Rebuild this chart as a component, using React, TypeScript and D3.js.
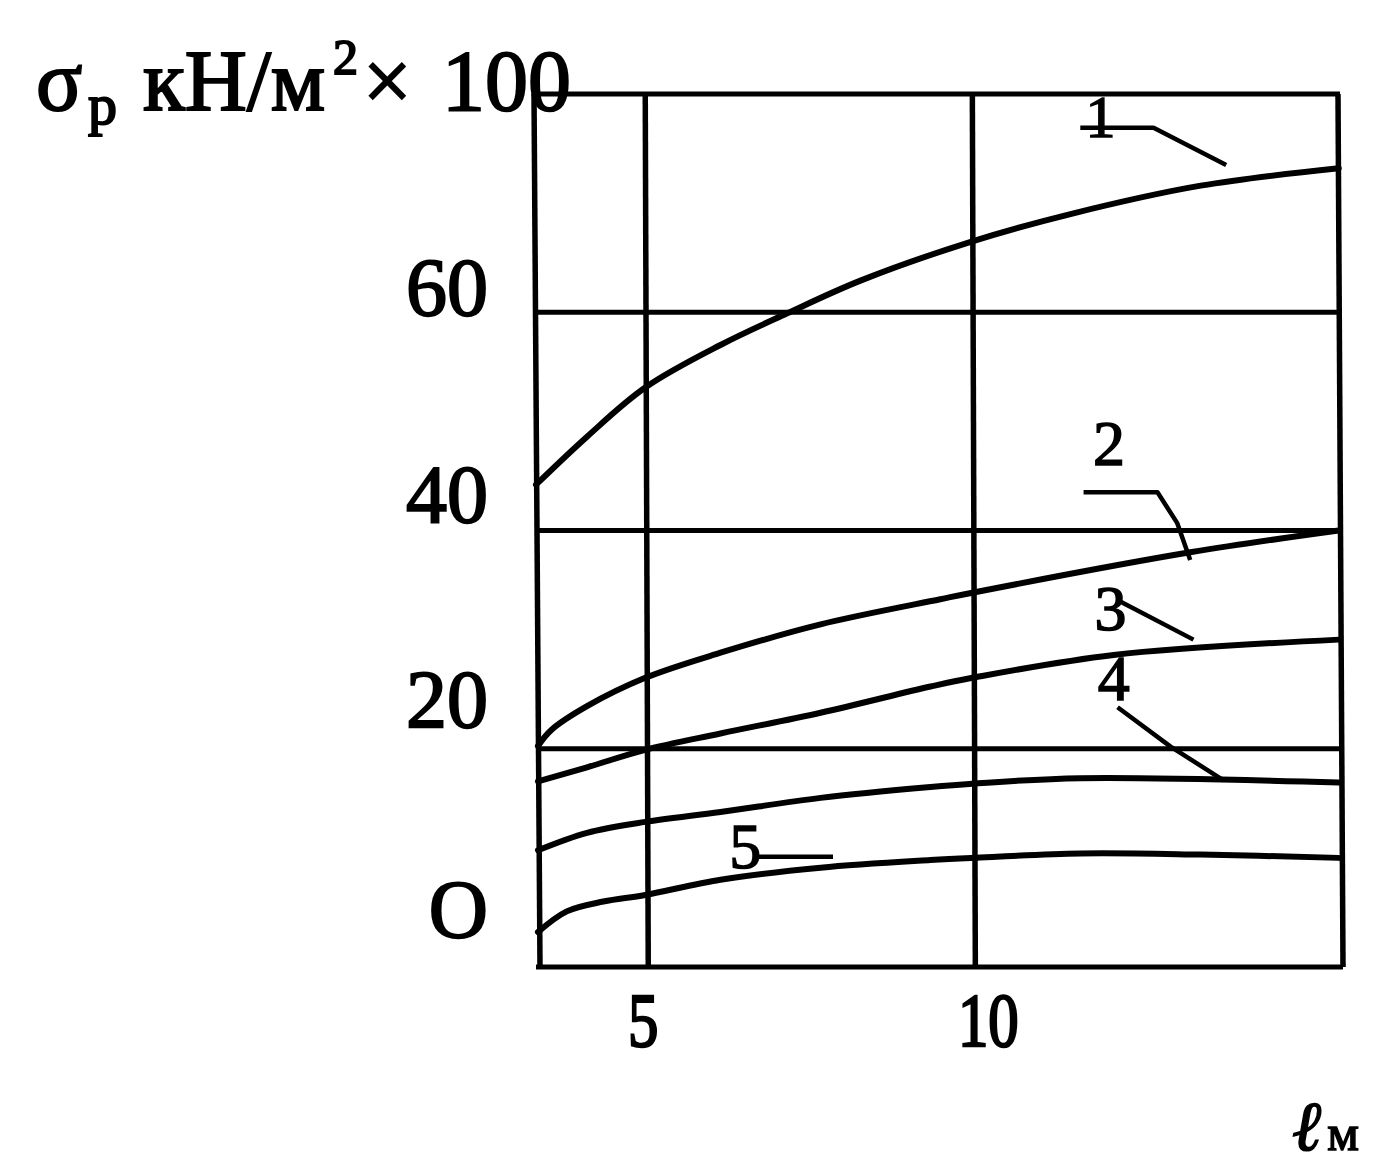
import React from 'react';
import * as d3 from 'd3';

// ---- data ----
const X_TICKS = [5, 10];
const X_TICK_LABELS = ['5', '10'];
const Y_TICKS = [0, 20, 40, 60];
const Y_TICK_LABELS = ['O', '20', '40', '60'];
const H_GRID = [20, 40, 60];
const V_GRID = [5, 10];

const C1_X = [3.33, 4.11, 5, 6.15, 7.17, 8.29, 10, 11.5, 13.49, 15.6];
const C1_Y = [44.2, 48.6, 53.1, 57.0, 59.9, 62.9, 66.5, 69.0, 71.6, 73.2];

const C2_X = [3.36, 3.56, 4.11, 5, 6.15, 7.68, 9.51, 10, 13.33, 15.6];
const C2_Y = [20.25, 21.7, 23.9, 26.5, 28.8, 31.4, 33.7, 34.3, 38.0, 40.0];

const C3_X = [3.36, 4.11, 5, 6.15, 7.68, 9.36, 10, 12.16, 15.6];
const C3_Y = [17.0, 18.3, 19.9, 21.4, 23.3, 25.7, 26.5, 28.6, 30.0];

const C4_X = [3.36, 4.11, 5, 6.15, 7.68, 9.36, 10, 11.65, 15.6];
const C4_Y = [10.7, 12.3, 13.3, 14.2, 15.5, 16.5, 16.8, 17.3, 16.9];

const C5_X = [3.36, 3.8, 4.36, 5, 6.15, 7.68, 9.36, 10, 11.65, 13.49, 15.6];
const C5_Y = [3.2, 5.1, 6.0, 6.6, 8.0, 9.1, 9.8, 10.0, 10.4, 10.3, 10.0];

const CURVE_NAMES = ['1', '2', '3', '4', '5'];
const LABEL_X = [11.96, 12.09, 12.11, 12.16, 6.53];
const LABEL_Y = [76.1, 46.0, 30.9, 24.5, 9.1];

const LEAD1_X = [11.65, 12.77, 13.88];
const LEAD1_Y = [76.9, 76.9, 73.5];
const LEAD2_X = [11.7, 12.83, 13.13, 13.33];
const LEAD2_Y = [43.5, 43.5, 40.7, 37.3];
const LEAD3_X = [12.26, 13.38];
const LEAD3_Y = [33.5, 30.0];
const LEAD4_X = [12.22, 13.03, 13.84];
const LEAD4_Y = [23.8, 20.2, 17.1];
const LEAD5_X = [6.65, 7.87];
const LEAD5_Y = [10.1, 10.1];

const CURVES = [
  [C1_X, C1_Y],
  [C2_X, C2_Y],
  [C3_X, C3_Y],
  [C4_X, C4_Y],
  [C5_X, C5_Y],
];
const LEADERS = [
  [LEAD1_X, LEAD1_Y],
  [LEAD2_X, LEAD2_Y],
  [LEAD3_X, LEAD3_Y],
  [LEAD4_X, LEAD4_Y],
  [LEAD5_X, LEAD5_Y],
];

const X_DOMAIN = [3.33, 15.62];
const Y_DOMAIN = [0, 80];

export default function App() {
  const W = 1397;
  const H = 1167;
  const x = d3.scaleLinear().domain(X_DOMAIN).range([536, 1340]);
  const y = d3.scaleLinear().domain(Y_DOMAIN).range([967, 94]);

  const font = '"Liberation Serif", "Times New Roman", serif';
  const curveLine = d3
    .line<[number, number]>()
    .x((d) => x(d[0]))
    .y((d) => y(d[1]))
    .curve(d3.curveCatmullRom.alpha(0.5));
  const polyLine = d3
    .line<[number, number]>()
    .x((d) => x(d[0]))
    .y((d) => y(d[1]));

  const zip = (a: number[], b: number[]) => a.map((v, i) => [v, b[i]] as [number, number]);

  const yNudge = [-30, -22, -9, 3];
  const xNudge = [-2, 16];

  const x0 = x(X_DOMAIN[0]);
  const x1 = x(X_DOMAIN[1]);
  const yTop = y(Y_DOMAIN[1]);
  const yBot = y(Y_DOMAIN[0]);

  return (
    <svg
      width={W}
      height={H}
      style={{ position: 'absolute', left: 0, top: 0, background: '#fff' }}
    >
      <rect x={0} y={0} width={W} height={H} fill="#fff" />
      {/* grid */}
      {H_GRID.map((v) => (
        <line key={'h' + v} x1={x0} x2={x1} y1={y(v)} y2={y(v)} stroke="#000" strokeWidth={5} />
      ))}
      {V_GRID.map((v) => (
        <line key={'v' + v} x1={x(v)} x2={x(v) + 3} y1={yTop} y2={yBot} stroke="#000" strokeWidth={5.5} />
      ))}
      {/* frame */}
      <line x1={x0 - 2} x2={x0 + 4} y1={yTop} y2={yBot} stroke="#000" strokeWidth={5.5} />
      <line x1={x1 - 2} x2={x1 + 3} y1={yTop} y2={yBot} stroke="#000" strokeWidth={5.5} />
      <line x1={x0 - 4} x2={x1} y1={yTop} y2={yTop} stroke="#000" strokeWidth={5} />
      <line x1={x0} x2={x1 + 3} y1={yBot} y2={yBot} stroke="#000" strokeWidth={5} />

      {/* curves */}
      {CURVES.map(([cx, cy], i) => (
        <path key={'c' + i} d={curveLine(zip(cx, cy)) || ''} fill="none" stroke="#000" strokeWidth={6} strokeLinejoin="round" strokeLinecap="round" />
      ))}
      {/* leaders */}
      {LEADERS.map(([lx, ly], i) => (
        <path key={'l' + i} d={polyLine(zip(lx, ly)) || ''} fill="none" stroke="#000" strokeWidth={4.5} strokeLinejoin="round" />
      ))}
      {/* curve labels */}
      {CURVE_NAMES.map((n, i) => (
        <text key={'n' + i} x={x(LABEL_X[i])} y={y(LABEL_Y[i])} textAnchor="middle" fontFamily={font} fontSize={i === 0 ? 60 : 64} fill="#000" stroke="#000" strokeWidth={1.5}>
          {n}
        </text>
      ))}

      {/* y tick labels */}
      {Y_TICKS.map((v, i) => (
        <text key={'yt' + v} x={x0 - 48} y={y(v) + yNudge[i]} textAnchor="end" fontFamily={font} fontSize={82} fill="#000" stroke="#000" strokeWidth={2}>
          {Y_TICK_LABELS[i]}
        </text>
      ))}
      {/* x tick labels */}
      {X_TICKS.map((v, i) => (
        <text key={'xt' + v} transform={`translate(${x(v) + xNudge[i]},${yBot + 79}) scale(0.8,1)`} textAnchor="middle" fontFamily={font} fontSize={76} fill="#000" stroke="#000" strokeWidth={2.5}>
          {X_TICK_LABELS[i]}
        </text>
      ))}

      {/* y axis title */}
      <text y={110} fontFamily={font} fontSize={86} fill="#000" stroke="#000" strokeWidth={2}>
        <tspan x={36}>σ</tspan>
        <tspan x={88} y={124} fontSize={58}>p</tspan>
        <tspan x={143} y={110}>кН/м</tspan>
        <tspan x={333} y={74} fontSize={50}>2</tspan>
        <tspan x={363} y={110}>×</tspan>
        <tspan x={442} y={110}>100</tspan>
      </text>

      {/* x axis title */}
      <text x={1292} y={1150} fontFamily={font} fill="#000" stroke="#000" strokeWidth={1.5}>
        <tspan fontSize={70} fontStyle="italic">ℓ</tspan>
        <tspan fontSize={50} dx={6}>м</tspan>
      </text>
    </svg>
  );
}
